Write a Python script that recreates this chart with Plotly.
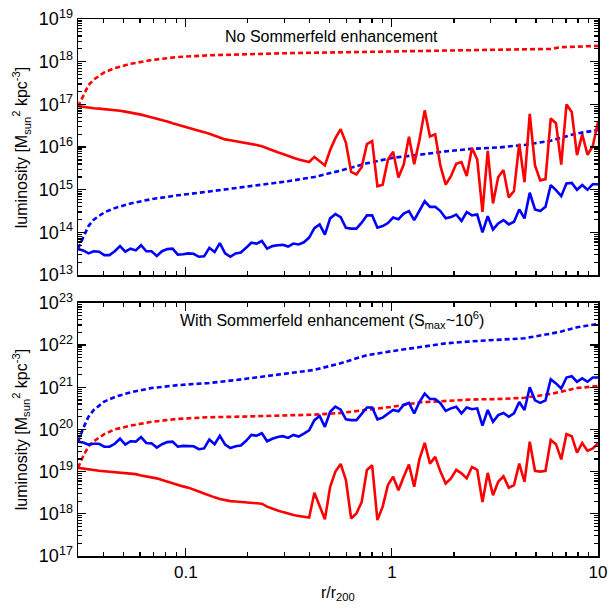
import plotly.graph_objects as go

# radius grid r/r200 (log-spaced sample points)
r = [0.03, 0.03181, 0.03373, 0.03577, 0.03794, 0.04023, 0.04266, 0.04524, 0.04797, 0.05087,
     0.05395, 0.05721, 0.06067, 0.06433, 0.06822, 0.07234, 0.07671, 0.08135, 0.08627, 0.09148,
     0.09701, 0.1029, 0.1091, 0.1157, 0.1227, 0.1301, 0.1380, 0.1463, 0.1552, 0.1645,
     0.1745, 0.1850, 0.1962, 0.2081, 0.2206, 0.2340, 0.2481, 0.2631, 0.2790, 0.2959,
     0.3138, 0.3327, 0.3528, 0.3741, 0.3967, 0.4207, 0.4461, 0.4731, 0.5017, 0.5320,
     0.5642, 0.5983, 0.6344, 0.6728, 0.7134, 0.7566, 0.8023, 0.8508, 0.9022, 0.9567,
     1.014, 1.076, 1.141, 1.210, 1.283, 1.360, 1.443, 1.530, 1.622, 1.720,
     1.824, 1.935, 2.052, 2.176, 2.307, 2.446, 2.594, 2.751, 2.917, 3.094,
     3.280, 3.479, 3.689, 3.912, 4.149, 4.399, 4.665, 4.947, 5.246, 5.563,
     5.899, 6.254, 6.632, 7.033, 7.458, 7.908, 8.386, 8.893, 9.430, 10.0]

r_dashed = [0.03, 0.03181, 0.03373, 0.03577, 0.04023, 0.04524, 0.05395, 0.06822, 0.09148, 0.1301,
            0.1745, 0.2340, 0.3138, 0.4207, 0.5642, 0.7566, 1.014, 1.360, 1.824, 2.446,
            3.280, 4.399, 5.899, 6.632, 7.908, 10.0]

# log10 of luminosity, top panel (no Sommerfeld enhancement)
top_red_solid_log10 = [
    16.96, 16.94, 16.93, 16.91, 16.90, 16.89, 16.88, 16.86, 16.85, 16.83,
    16.81, 16.79, 16.76, 16.73, 16.70, 16.67, 16.63, 16.60, 16.56, 16.53,
    16.49, 16.45, 16.42, 16.38, 16.35, 16.31, 16.27, 16.22, 16.18, 16.16,
    16.14, 16.12, 16.10, 16.08, 16.05, 16.02, 15.97, 15.92, 15.88, 15.84,
    15.79, 15.75, 15.71, 15.68, 15.65, 15.77, 15.68, 15.57, 15.93, 16.21,
    16.42, 16.10, 15.42, 15.36, 15.53, 16.07, 16.14, 15.08, 15.12, 15.71,
    15.89, 15.29, 15.59, 16.24, 15.60, 16.16, 16.86, 16.25, 16.30, 15.56,
    15.12, 15.32, 15.61, 15.65, 15.32, 15.98, 15.71, 14.48, 15.91, 14.68,
    15.30, 15.46, 14.82, 14.97, 16.08, 15.18, 16.78, 15.57, 15.22, 15.25,
    16.67, 16.56, 15.59, 17.00, 16.82, 15.81, 16.30, 15.82, 16.02, 16.59]

top_blue_solid_log10 = [
    13.61, 13.58, 13.51, 13.56, 13.55, 13.47, 13.47, 13.56, 13.68, 13.55,
    13.62, 13.58, 13.70, 13.56, 13.56, 13.45, 13.56, 13.61, 13.62, 13.48,
    13.49, 13.51, 13.50, 13.43, 13.44, 13.64, 13.54, 13.75, 13.51, 13.43,
    13.51, 13.53, 13.64, 13.76, 13.74, 13.80, 13.62, 13.68, 13.70, 13.71,
    13.67, 13.74, 13.72, 13.77, 13.88, 14.10, 14.19, 13.95, 14.33, 14.43,
    14.36, 14.11, 14.09, 14.09, 14.23, 14.40, 14.40, 14.11, 14.15, 14.22,
    14.35, 14.31, 14.44, 14.50, 14.29, 14.52, 14.73, 14.60, 14.60, 14.50,
    14.33, 14.36, 14.42, 14.27, 14.48, 14.40, 14.42, 14.00, 14.38, 14.07,
    14.21, 14.29, 14.19, 14.25, 14.54, 14.33, 14.93, 14.54, 14.50, 14.60,
    15.11, 14.99, 14.85, 15.15, 15.16, 15.00, 15.11, 15.00, 15.13, 15.13]

top_red_dashed_log10 = [16.95, 17.20, 17.45, 17.58, 17.75, 17.85, 17.95, 18.04, 18.11, 18.15,
                        18.17, 18.19, 18.20, 18.21, 18.22, 18.23, 18.25, 18.26, 18.27, 18.28,
                        18.28, 18.29, 18.30, 18.34, 18.36, 18.37]

top_blue_dashed_log10 = [13.62, 13.90, 14.15, 14.30, 14.47, 14.57, 14.68, 14.78, 14.87, 14.96,
                         15.04, 15.12, 15.20, 15.30, 15.45, 15.62, 15.75, 15.82, 15.90, 15.96,
                         15.99, 16.05, 16.15, 16.22, 16.32, 16.40]

# log10 of luminosity, bottom panel (with Sommerfeld enhancement)
bot_red_solid_log10 = [
    19.09, 19.07, 19.05, 19.04, 19.02, 19.01, 19.00, 18.99, 18.98, 18.97,
    18.96, 18.94, 18.91, 18.89, 18.87, 18.84, 18.80, 18.76, 18.72, 18.69,
    18.65, 18.62, 18.58, 18.53, 18.48, 18.43, 18.39, 18.35, 18.32, 18.30,
    18.29, 18.28, 18.27, 18.27, 18.26, 18.24, 18.17, 18.12, 18.08, 18.04,
    18.00, 17.97, 17.95, 17.93, 17.91, 18.50, 18.18, 17.87, 18.64, 19.00,
    19.18, 18.80, 17.89, 18.01, 18.28, 19.04, 19.15, 17.85, 18.17, 18.68,
    18.88, 18.56, 18.88, 19.17, 18.64, 19.29, 19.68, 19.19, 19.35, 19.00,
    18.72, 18.84, 19.04, 18.96, 18.84, 19.11, 19.04, 18.28, 18.97, 18.44,
    18.76, 18.89, 18.62, 18.68, 19.19, 18.76, 19.71, 19.02, 19.00, 19.02,
    19.75, 19.65, 19.29, 19.89, 19.84, 19.45, 19.68, 19.49, 19.55, 19.67]

bot_blue_solid_log10 = [
    19.71, 19.69, 19.64, 19.66, 19.66, 19.59, 19.59, 19.66, 19.78, 19.64,
    19.72, 19.71, 19.82, 19.68, 19.67, 19.57, 19.65, 19.70, 19.71, 19.59,
    19.61, 19.61, 19.60, 19.53, 19.55, 19.76, 19.65, 19.85, 19.64, 19.56,
    19.60, 19.62, 19.73, 19.87, 19.85, 19.91, 19.72, 19.78, 19.82, 19.84,
    19.80, 19.87, 19.83, 19.90, 19.98, 20.22, 20.32, 20.06, 20.42, 20.54,
    20.47, 20.24, 20.22, 20.22, 20.36, 20.52, 20.52, 20.24, 20.28, 20.36,
    20.46, 20.43, 20.58, 20.63, 20.38, 20.65, 20.85, 20.72, 20.72, 20.62,
    20.44, 20.50, 20.54, 20.38, 20.52, 20.48, 20.50, 20.09, 20.46, 20.18,
    20.34, 20.39, 20.30, 20.38, 20.65, 20.46, 21.00, 20.69, 20.63, 20.69,
    21.19, 21.09, 20.97, 21.23, 21.26, 21.13, 21.21, 21.13, 21.23, 21.23]

bot_red_dashed_log10 = [19.09, 19.37, 19.60, 19.72, 19.89, 20.00, 20.09, 20.18, 20.25, 20.29,
                        20.30, 20.32, 20.33, 20.35, 20.39, 20.47, 20.54, 20.64, 20.68, 20.71,
                        20.72, 20.75, 20.84, 20.90, 20.98, 21.03]

bot_blue_dashed_log10 = [19.70, 20.03, 20.30, 20.46, 20.66, 20.77, 20.88, 20.98, 21.05, 21.10,
                         21.17, 21.25, 21.32, 21.41, 21.57, 21.76, 21.86, 21.95, 22.04, 22.09,
                         22.12, 22.16, 22.27, 22.32, 22.42, 22.50]

top_exponents = [13, 14, 15, 16, 17, 18, 19]
bot_exponents = [17, 18, 19, 20, 21, 22, 23]
x_tick_vals = [0.1, 1, 10]
x_tick_text = ["0.1", "1", "10"]

RED = "#ff0000"
BLUE = "#0000ff"
FONT = "Liberation Sans, Arial, sans-serif"
LW = 2.6
DASH = "5px,3px"


def lin(vals):
    return [10 ** v for v in vals]


fig = go.Figure()
series = [
    (r_dashed, top_red_dashed_log10, RED, DASH, "x", "y"),
    (r_dashed, top_blue_dashed_log10, BLUE, DASH, "x", "y"),
    (r, top_red_solid_log10, RED, "solid", "x", "y"),
    (r, top_blue_solid_log10, BLUE, "solid", "x", "y"),
    (r_dashed, bot_blue_dashed_log10, BLUE, DASH, "x2", "y2"),
    (r_dashed, bot_red_dashed_log10, RED, DASH, "x2", "y2"),
    (r, bot_blue_solid_log10, BLUE, "solid", "x2", "y2"),
    (r, bot_red_solid_log10, RED, "solid", "x2", "y2"),
]
for xs, ys, col, dash, xa, ya in series:
    fig.add_trace(go.Scatter(x=xs, y=lin(ys), mode="lines", xaxis=xa, yaxis=ya,
                             line=dict(color=col, width=LW, dash=dash),
                             showlegend=False, hoverinfo="skip", cliponaxis=True))

x_minor = [m * 10 ** e for e in (-2, -1, 0) for m in range(2, 10) if m * 10 ** e >= 0.03]


def y_minor(exps):
    return [m * 10.0 ** e for e in exps[:-1] for m in range(2, 10)]


common_axis = dict(showline=True, linecolor="black", linewidth=1.5, mirror="allticks",
                   ticks="inside", ticklen=8, tickwidth=1.2, tickcolor="black",
                   showgrid=False, zeroline=False, automargin=False)
x_font = dict(family=FONT, size=17, color="black")
y_font = dict(family=FONT, size=18, color="black")
minor_style = dict(ticks="inside", ticklen=4, tickcolor="black", showgrid=False)

xrange = [-1.5229, 1.0]
fig.update_layout(
    width=611, height=610,
    margin=dict(l=78, r=13, t=19, b=54, autoexpand=False),
    paper_bgcolor="white", plot_bgcolor="white",
    font=dict(family=FONT, color="black"),
    xaxis=dict(type="log", range=xrange, anchor="y", matches="x2",
               tickvals=x_tick_vals, showticklabels=False, tickfont=x_font,
               minor=dict(tickvals=x_minor, **minor_style), **common_axis),
    xaxis2=dict(type="log", range=xrange, anchor="y2",
                tickvals=x_tick_vals, ticktext=x_tick_text, tickfont=x_font,
                minor=dict(tickvals=x_minor, **minor_style), **common_axis),
    yaxis=dict(type="log", range=[13, 19], domain=[0.523, 1.0], anchor="x",
               tickvals=[10.0 ** e for e in top_exponents],
               ticktext=["10<sup>%d</sup>" % e for e in top_exponents], tickfont=y_font,
               minor=dict(tickvals=y_minor(top_exponents), **minor_style), **common_axis),
    yaxis2=dict(type="log", range=[17, 23], domain=[0.0, 0.4714], anchor="x2",
                tickvals=[10.0 ** e for e in bot_exponents],
                ticktext=["10<sup>%d</sup>" % e for e in bot_exponents], tickfont=y_font,
                minor=dict(tickvals=y_minor(bot_exponents), **minor_style), **common_axis),
)

ytitle = "luminosity [M<sub>sun</sub><sup>2</sup> kpc<sup>-3</sup>]"
ann_font = dict(family=FONT, size=16, color="black")
fig.add_annotation(text=ytitle, xref="paper", yref="paper", x=-0.108, y=0.761,
                   textangle=-90, showarrow=False, xanchor="center", yanchor="middle", font=ann_font)
fig.add_annotation(text=ytitle, xref="paper", yref="paper", x=-0.108, y=0.2357,
                   textangle=-90, showarrow=False, xanchor="center", yanchor="middle", font=ann_font)
fig.add_annotation(text="r/r<sub>200</sub>", xref="paper", yref="paper", x=0.5, y=-0.069,
                   showarrow=False, xanchor="center", yanchor="middle", font=ann_font)
fig.add_annotation(text="No Sommerfeld enhancement", xref="paper", yref="paper", x=0.488, y=0.968,
                   showarrow=False, xanchor="center", yanchor="middle", font=ann_font)
fig.add_annotation(text="With Sommerfeld enhancement (S<sub>max</sub>~10<sup>6</sup>)",
                   xref="paper", yref="paper", x=0.488, y=0.44,
                   showarrow=False, xanchor="center", yanchor="middle", font=ann_font)

fig.write_html("out.html", config={"displayModeBar": False, "staticPlot": True},
               post_script="document.body.style.margin='0px';")
